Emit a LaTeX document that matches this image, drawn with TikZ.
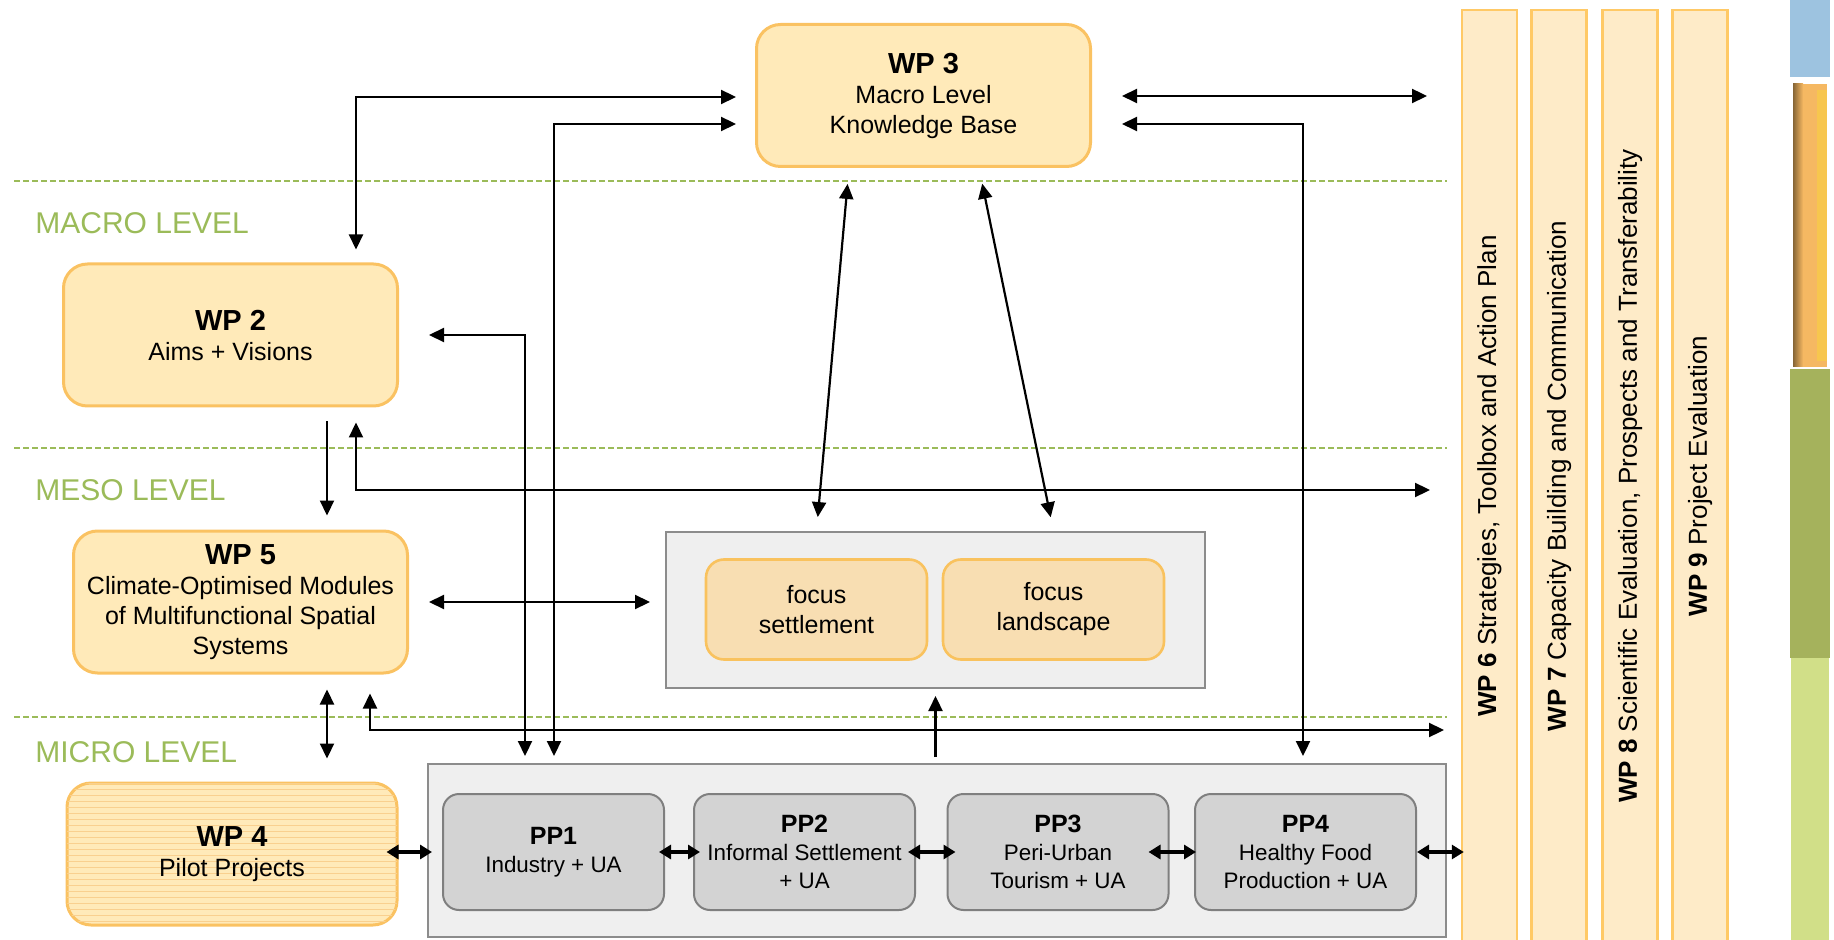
\documentclass[tikz,border=0pt]{standalone}
\usepackage{fontspec}
\setmainfont{Liberation Sans}
\usepackage{graphicx}
\usepackage{xcolor}
\usetikzlibrary{arrows.meta,patterns}

\definecolor{boxfill}{HTML}{FFEAB9}
\definecolor{boxline}{HTML}{FAC262}
\definecolor{colfill}{HTML}{FEEBC8}
\definecolor{colline}{HTML}{FFC966}
\definecolor{ppfill}{HTML}{D3D3D3}
\definecolor{ppline}{HTML}{7F7F7F}
\definecolor{contfill}{HTML}{EFEFEF}
\definecolor{contline}{HTML}{8C8C8C}
\definecolor{focfill}{HTML}{F8DEB2}
\definecolor{focline}{HTML}{F9C25E}
\definecolor{lvgreen}{HTML}{9BBB59}
\definecolor{stripe}{HTML}{F9D08F}
\definecolor{barblue}{HTML}{9DC3E0}
\definecolor{barorange}{HTML}{F5B862}
\definecolor{bardark}{HTML}{A5B25C}
\definecolor{barlight}{HTML}{D1DF88}

\tikzset{
    wpbox/.style={draw=boxline, fill=boxfill, line width=1.5pt, rounded corners=12pt,
        align=center, minimum width=167pt, minimum height=71pt, inner sep=2pt,
        font=\fontsize{12.5}{15}\selectfont},
    ppbox/.style={draw=ppline, fill=ppfill, line width=1pt, rounded corners=8pt,
        align=center, minimum width=110.5pt, minimum height=58pt, inner sep=1pt,
        font=\fontsize{11.2}{14}\selectfont},
    focbox/.style={draw=focline, fill=focfill, line width=1.3pt, rounded corners=9pt,
        align=center, minimum width=110.5pt, minimum height=50pt,
        font=\fontsize{12.5}{15}\selectfont},
    container/.style={draw=contline, fill=contfill, line width=1pt},
    wpcol/.style={draw=colline, fill=colfill, line width=1.2pt, minimum width=27.5pt,
        minimum height=466pt, inner sep=0pt, font=\fontsize{13}{15}\selectfont},
    level/.style={text=lvgreen, anchor=west, inner sep=0pt, font=\fontsize{15}{18}\selectfont},
    levelline/.style={draw=lvgreen, line width=1pt, dash pattern=on 3pt off 1.5pt},
    link/.style={line width=1.1pt, >={Triangle[length=7.5pt,width=7pt]}, shorten <=7pt, shorten >=7pt},
    duo/.style={line width=1.6pt, <->, >={Triangle[length=6pt,width=7pt]}}
}
\newcommand{\wphead}[1]{{\bfseries\fontsize{14.5}{17}\selectfont #1}}
\newcommand{\pphead}[1]{{\bfseries\fontsize{12.5}{14}\selectfont #1}}

\begin{document}
\begin{tikzpicture}[x=0.5pt, y=-0.5pt]
        \useasboundingbox (0,0) rectangle (1834,940);

        % Lineas de nivel y sus etiquetas
        \foreach \y in {181,448,717}
            \draw[levelline] (14,\y) -- (1447,\y);
        \node[level] (macro) at (35,223) {MACRO LEVEL};
        \node[level] (meso) at (35,490) {MESO LEVEL};
        \node[level] (micro) at (35,752) {MICRO LEVEL};

        % Paquetes de trabajo principales
        \node[wpbox] (wp3) at (923.5,95.5) {\wphead{WP 3}\\ Macro Level\\ Knowledge Base};
        \node[wpbox] (wp2) at (230.5,335) {\wphead{WP 2}\\ Aims + Visions};
        \node[wpbox] (wp5) at (240.5,602) {\wphead{WP 5}\\ Climate-Optimised Modules\\ of Multifunctional Spatial\\ Systems};
        \node[wpbox, minimum width=165pt, postaction={pattern=horizontal lines, pattern color=stripe}] (wp4) at (232,854) {\wphead{WP 4}\\ Pilot Projects};

        % Bloque de focos
        \node[container, minimum width=269.5pt, minimum height=78pt] (focus) at (935.5,610) {};
        \node[focbox] (fset) at (816.5,609.5) {focus\\ settlement};
        \node[focbox] (fland) at (1053.5,609.5) {focus\\ landscape};

        % Proyectos piloto
        \node[container, minimum width=509pt, minimum height=86.5pt] (pps) at (937,850.5) {};
        \node[ppbox] (pp1) at (553.5,852) {\pphead{PP1}\\ Industry + UA};
        \node[ppbox] (pp2) at (804.5,852) {\pphead{PP2}\\ Informal Settlement\\ + UA};
        \node[ppbox] (pp3) at (1058,852) {\pphead{PP3}\\ Peri-Urban\\ Tourism + UA};
        \node[ppbox] (pp4) at (1305.5,852) {\pphead{PP4}\\ Healthy Food\\ Production + UA};

        % Columnas transversales
        \node[wpcol] (wp6) at (1489.5,476) {\rotatebox{90}{\textbf{WP 6} Strategies, Toolbox and Action Plan}};
        \node[wpcol] (wp7) at (1559,476) {\rotatebox{90}{\textbf{WP 7} Capacity Building and Communication}};
        \node[wpcol] (wp8) at (1630,476) {\rotatebox{90}{\textbf{WP 8} Scientific Evaluation, Prospects and Transferability}};
        \node[wpcol] (wp9) at (1700,476) {\rotatebox{90}{\textbf{WP 9} Project Evaluation}};

        % Barra de color a la derecha
        \fill[barblue] (1790,0) rectangle (1830,77);
        \fill[barorange] (1793,84) rectangle (1827,367);
        \shade[left color=barorange!55!black, right color=barorange] (1793,84) rectangle (1803,367);
        \fill[barorange!80!yellow] (1817,90) rectangle (1827,361);
        \fill[bardark] (1790,369) rectangle (1830,658);
        \fill[barlight] (1791,658) rectangle (1829,940);

        % Puntos de quiebre de las flechas
        \coordinate (k1) at (356,97);
        \coordinate (k2) at (554,124);
        \coordinate (k3) at (525,335);
        \coordinate (k4) at (327,490);
        \coordinate (k5) at (356,490);
        \coordinate (e5) at (1430,490);
        \coordinate (k9) at (370,730);
        \coordinate (e9) at (1444,730);
        \coordinate (e11) at (1427,96);
        \coordinate (k12) at (1303,124);

        % Flechas largas
        \draw[link, <->, shorten <=9.5pt, shorten >=6.5pt] (k1 -| wp3.west) -- (k1) -- (k1 |- wp2.north);
        \draw[link, <->, shorten <=9.5pt, shorten >=3.5pt] (k2 -| wp3.west) -- (k2) -- (k2 |- pps.north);
        \draw[link, <->, shorten <=15pt, shorten >=3.5pt] (k3 -| wp2.east) -- (k3) -- (k3 |- pps.north);
        \draw[link, ->] (k4 |- wp2.south) -- (k4 |- wp5.north);
        \draw[link, <->, shorten <=7.5pt, shorten >=0pt] (k5 |- wp2.south) -- (k5) -- (e5);
        \draw[link, <->, shorten <=8pt] ([xshift=-37.25pt]wp3.south) -- (fset.north |- focus.north);
        \draw[link, <->, shorten <=8pt] ([xshift=27.75pt]wp3.south) -- (fland.north |- focus.north);
        \draw[link, <->, shorten <=10pt, shorten >=7.5pt] (wp5.east) -- (wp5.east -| focus.west);
        \draw[link, <->, shorten <=7.5pt, shorten >=11.5pt] (k4 |- wp5.south) -- (k4 |- wp4.north);
        \draw[link, <->, shorten <=9.5pt, shorten >=0pt] (k9 |- wp5.south) -- (k9) -- (e9);
        \draw[link, ->, shorten <=3pt, shorten >=3.5pt] (pps.north -| focus.south) -- (focus.south);
        \draw[link, <->, shorten <=15pt, shorten >=0pt] (e11 -| wp3.east) -- (e11);
        \draw[link, <->, shorten <=15pt, shorten >=3.5pt] (k12 -| wp3.east) -- (k12) -- (k12 |- pps.north);

        % Flechas cortas entre proyectos
        \draw[duo, shorten <=-6pt, shorten >=5pt] (wp4.east |- pp1.west) -- (pp1.west);
        \draw[duo, shorten <=-3pt, shorten >=-3.5pt] (pp1.east) -- (pp2.west);
        \draw[duo, shorten <=-4pt, shorten >=-4.5pt] (pp2.east) -- (pp3.west);
        \draw[duo, shorten <=-10.5pt, shorten >=-1pt] (pp3.east) -- (pp4.west);
        \draw[duo, shorten >=-1.5pt] (pp4.east) -- (pp4.east -| wp6.west);
    \end{tikzpicture}
\end{document}
